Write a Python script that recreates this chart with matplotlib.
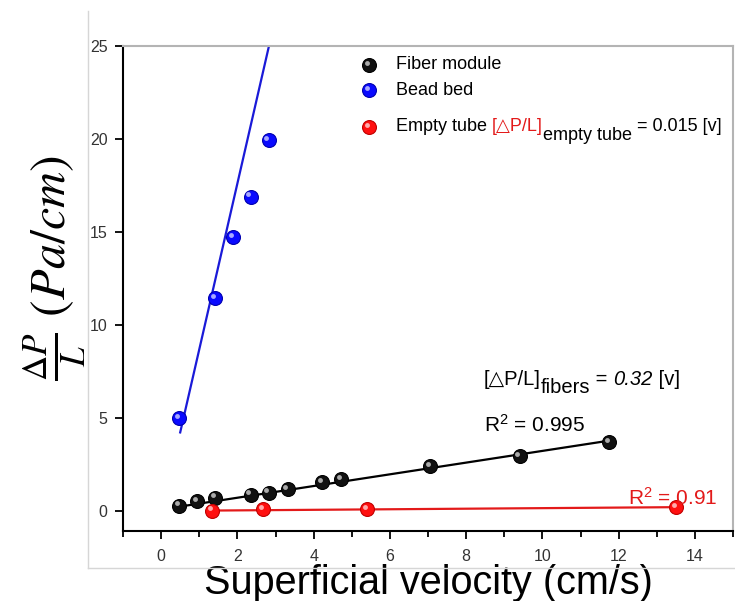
import numpy as np
import matplotlib.pyplot as plt
import matplotlib.transforms as mtransforms
from matplotlib.lines import Line2D

plt.rcParams['font.family'] = ['Liberation Sans', 'DejaVu Sans']
plt.rcParams['mathtext.fontset'] = 'custom'
plt.rcParams['mathtext.rm'] = 'Liberation Sans'
plt.rcParams['mathtext.it'] = 'Liberation Sans:italic'

# superficial velocity (cm/s) and pressure drop (Pa/cm)
fiber_v = [0.47, 0.94, 1.41, 2.35, 2.82, 3.32, 4.23, 4.73, 7.05, 9.40, 11.75]
fiber_dp = [0.27, 0.49, 0.70, 0.86, 0.97, 1.14, 1.51, 1.68, 2.38, 2.92, 3.68]
bead_v = [0.47, 1.41, 1.88, 2.35, 2.82]
bead_dp = [4.97, 11.45, 14.70, 16.90, 19.95]
empty_v = [1.33, 2.68, 5.40, 13.50]
empty_dp = [0.00, 0.09, 0.07, 0.17]

# lines as drawn: slope, intercept, x from, x to
fiber_fit = (0.315, 0.06, 0.47, 11.75)
bead_fit = (8.93, -0.26, 0.50, 2.83)
empty_fit = (0.015, -0.02, 1.30, 13.50)

fig = plt.figure(figsize=(7.35, 6.01), dpi=100)
ax = fig.add_axes([123/735, 1-531/601, (733-123)/735, (531-46)/601])


def fit_line(ax, fit, color):
    k, b, x0, x1 = fit
    xs = np.array([x0, x1])
    ax.plot(xs, k*xs + b, '-', color=color, lw=1.6, zorder=2)


def balls(ax, x, y, color, edge, transform=None):
    tr = ax.transData if transform is None else transform
    ax.plot(x, y, 'o', ms=10, color=color, mec=edge, mew=0.8, zorder=3, transform=tr, clip_on=False)
    hl = mtransforms.offset_copy(tr, fig=fig, x=-1.6, y=1.6, units='points')
    ax.plot(x, y, 'o', ms=3.5, color='white', alpha=0.65, mew=0, zorder=4, transform=hl, clip_on=False)


fit_line(ax, bead_fit, '#1a1ad8')
fit_line(ax, fiber_fit, 'black')
fit_line(ax, empty_fit, '#e31a1a')
balls(ax, fiber_v, fiber_dp, '#111111', 'black')
balls(ax, bead_v, bead_dp, '#0a0aff', '#0000b0')
balls(ax, empty_v, empty_dp, '#ff1010', '#c00000')

ax.set_xlim(-1, 15)
ax.set_ylim(-1.1, 25)
ax.set_xticks(range(0, 15, 2))
ax.set_xticks(range(-1, 16, 2), minor=True)
ax.set_yticks(range(0, 26, 5))
ax.tick_params(axis='both', which='major', direction='out', length=6, width=1.3,
               labelsize=11.5, labelcolor='#333333', pad=5)
ax.tick_params(axis='x', which='major', pad=7)
ax.tick_params(axis='x', which='minor', direction='out', length=4, width=1.3)
for s in ['left', 'bottom']:
    ax.spines[s].set_linewidth(1.5)
for s in ['top', 'right']:
    ax.spines[s].set_color('#b4b4b4')
    ax.spines[s].set_linewidth(1.5)

ax.set_xlabel('Superficial velocity (cm/s)', fontsize=28.5, labelpad=0)
ax.set_ylabel(r'$\frac{\Delta P}{L}\ (Pa/cm)$', fontsize=36, math_fontfamily='stix')
ax.yaxis.set_label_coords(-0.057, 0.542)

# legend
leg_x = 0.403
leg_y = [0.961, 0.909, 0.833]
for yy, c, e in zip(leg_y, ['#111111', '#0a0aff', '#ff1010'], ['black', '#0000b0', '#c00000']):
    balls(ax, [leg_x], [yy], c, e, transform=ax.transAxes)
fs = 13
tx = 0.447
ax.text(tx, leg_y[0], 'Fiber module', transform=ax.transAxes, fontsize=fs, va='center')
ax.text(tx, leg_y[1], 'Bead bed', transform=ax.transAxes, fontsize=fs, va='center')
t1 = ax.text(tx, leg_y[2], 'Empty tube ', transform=ax.transAxes, fontsize=fs, va='center')
t2 = ax.annotate('[△P/L]', xy=(1, 0), xycoords=t1, va='bottom', fontsize=fs, color='#e31a1a')
t3 = ax.annotate('empty tube', xy=(1, 0), xycoords=t2, xytext=(0, -6), textcoords='offset points',
                 va='bottom', fontsize=fs)
ax.annotate(' = 0.015 [v]', xy=(1, 0), xycoords=(t3, t2), va='bottom', fontsize=fs)

# fit annotations
fs2 = 14.5
f1 = ax.text(0.592, 0.301, '[△P/L]', transform=ax.transAxes, fontsize=fs2)
f2 = ax.annotate('fibers', xy=(1, 0), xycoords=f1, xytext=(0, -6), textcoords='offset points',
                 va='bottom', fontsize=fs2)
f3 = ax.annotate(' = ', xy=(1, 0), xycoords=(f2, f1), va='bottom', fontsize=fs2)
f4 = ax.annotate('0.32', xy=(1, 0), xycoords=f3, va='bottom', fontsize=fs2, style='italic')
ax.annotate(' [v]', xy=(1, 0), xycoords=f4, va='bottom', fontsize=fs2)
ax.text(0.592, 0.204, r'R$^2$ = 0.995', transform=ax.transAxes, fontsize=15)
ax.text(0.828, 0.054, r'R$^2$ = 0.91', transform=ax.transAxes, fontsize=15, color='#e31a1a')

# frame of the pasted panel
fig.add_artist(Line2D([88/735, 88/735], [1-11/601, 1-568/601], color='#d6d6d6', lw=1))
fig.add_artist(Line2D([88/735, 1], [1-568/601, 1-568/601], color='#d6d6d6', lw=1))

fig.savefig('out.png', dpi=100)
